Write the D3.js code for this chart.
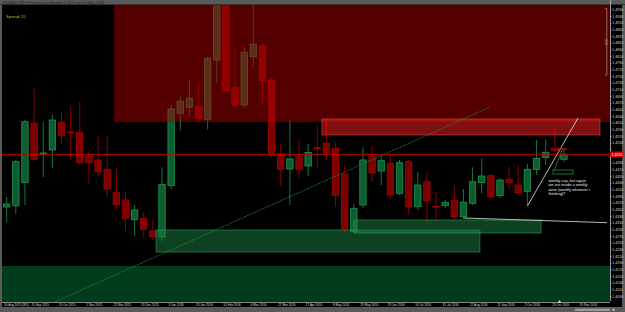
<!DOCTYPE html>
<html><head><meta charset="utf-8">
<script src="https://cdn.jsdelivr.net/npm/d3@7/dist/d3.min.js"></script>
<style>html,body{margin:0;padding:0;background:#5a5a5a;overflow:hidden}svg{display:block}</style>
</head><body>
<script>
// ---- data (weekly bars, index 0 = 30 Aug 2015) ----
const opens  = [1.4357,1.43609,1.44299,1.46081,1.45175,1.4528,1.46111,1.4582,1.45811,1.451,1.4498,1.44701,1.44011,1.4378,1.43189,1.43231,1.4285,1.4267,1.44209,1.46381,1.46561,1.466,1.46201,1.4798,1.496,1.47161,1.4663,1.48079,1.484,1.4738,1.4516,1.4471,1.45079,1.448,1.45349,1.45481,1.45331,1.4456,1.42829,1.4363,1.45079,1.4465,1.44881,1.43981,1.44929,1.43579,1.44329,1.43591,1.43609,1.43759,1.43279,1.43681,1.44299,1.44509,1.43909,1.44401,1.4423,1.44029,1.44695,1.45055,1.45331,1.45001];
const highs  = [1.4387,1.4498,1.4618,1.4714,1.4612,1.4633,1.4642,1.46579,1.46729,1.4525,1.45709,1.4573,1.44761,1.44029,1.4363,1.43411,1.43201,1.44761,1.4663,1.46915,1.47401,1.47299,1.48079,1.4966,1.4966,1.48379,1.4837,1.4966,1.48481,1.47461,1.45481,1.46159,1.45601,1.4546,1.46,1.46201,1.45529,1.448,1.4366,1.45361,1.454,1.451,1.45181,1.4498,1.4498,1.44629,1.44629,1.44029,1.4378,1.4423,1.4411,1.44761,1.45031,1.4456,1.44431,1.44779,1.4483,1.4486,1.4558,1.45601,1.45931,1.4531];
const lows   = [1.4312,1.4336,1.4363,1.4495,1.4447,1.4474,1.4549,1.4501,1.4483,1.4426,1.44509,1.43861,1.4351,1.42859,1.427,1.42631,1.4258,1.4255,1.4411,1.45865,1.46279,1.4612,1.45895,1.47299,1.4702,1.466,1.46549,1.47779,1.46681,1.4507,1.442,1.4363,1.44449,1.445,1.4471,1.4498,1.43579,1.4282,1.4279,1.43531,1.44329,1.4423,1.43801,1.4393,1.4333,1.4348,1.43081,1.43201,1.4354,1.43201,1.43231,1.4363,1.43981,1.43831,1.4384,1.4408,1.4393,1.43615,1.4453,1.4483,1.4522,1.4492];
const closes = [1.4366,1.44929,1.46129,1.45001,1.4519,1.4618,1.45709,1.45799,1.44911,1.44899,1.44629,1.4411,1.43651,1.43231,1.4348,1.42901,1.42679,1.44251,1.4651,1.4675,1.46831,1.46231,1.48031,1.496,1.47059,1.4663,1.48211,1.48451,1.47359,1.45181,1.44701,1.4501,1.44701,1.45205,1.45331,1.45199,1.43909,1.4291,1.43531,1.4498,1.44599,1.44959,1.4393,1.44899,1.43579,1.4423,1.43759,1.4357,1.43711,1.43279,1.43711,1.44329,1.445,1.43879,1.4438,1.44299,1.43999,1.44701,1.45031,1.45214,1.45265,1.45151];

const priceTicks = [1.4950,1.4930,1.4910,1.4890,1.4870,1.4850,1.4830,1.4810,1.4790,1.4770,1.4750,1.4730,1.4710,1.4690,1.4670,1.4650,1.4630,1.4610,1.4590,1.4570,1.4550,1.4530,1.4510,1.4490,1.4470,1.4450,1.4430,1.4410,1.4390,1.4370,1.4350,1.4330,1.4310,1.4290,1.4270,1.4250,1.4230,1.4210,1.4190,1.4170,1.4150,1.4130,1.4110,1.4090];
const dateTickIdx = [0,3,6,9,12,15,18,21,24,27,30,33,36,39,42,45,48,51,54,57,60,63];
const dateLabels = ["30 Aug 2015 (W1)","20 Sep 2015","11 Oct 2015","1 Nov 2015","22 Nov 2015","13 Dec 2015","3 Jan 2016","24 Jan 2016","14 Feb 2016","6 Mar 2016","27 Mar 2016","17 Apr 2016","8 May 2016","29 May 2016","19 Jun 2016","10 Jul 2016","31 Jul 2016","21 Aug 2016","11 Sep 2016","2 Oct 2016","23 Oct 2016","13 Nov 2016"];

// supply / demand zones (bar index from..to, price top..bottom)
const zoneFrom   = [11.75, 34.5, 16.35, 38.0, -2];
const zoneTo     = [70, 64.95, 51.8, 58.5, 70];
const zoneTop    = [1.51, 1.4621, 1.4288, 1.4318, 1.4180];
const zoneBottom = [1.4612, 1.4573, 1.4222, 1.4279, 1.40];
const zoneKind   = ["supplyWide","supply","demand","demand","demandWide"];

// trend lines (bar index, price)
const lineX1 = [5, 50, 57];
const lineP1 = [1.4069, 1.4324, 1.4360];
const lineX2 = [52.9, 65.7, 62.54];
const lineP2 = [1.4657, 1.4310, 1.4624];
const lineKind = ["green","white","white"];

const noteLines = ["weekly sup, but again","we are inside a weekly","zone (weekly whatever i","thinking)?"];
const title = "EURAUD,W1  FxPro-Classic (Weekly)  1.4515 on Oct 30th, 2016";
const spreadText = "Spread: 15";

// ---- layout ----
const W = 625, H = 312;
const P = {l: 2, t: 5, r: 610, b: 302};
const x = d3.scaleLinear().domain([0, 61]).range([6.7, 6.7 + 61 * 9.135]);
const y = d3.scaleLinear().domain([1.4978, 1.4078]).range([0, 300]);
const FONT = "'Liberation Sans', Arial, sans-serif";

const svg = d3.select("body").append("svg").attr("width", W).attr("height", H);
svg.append("rect").attr("width", W).attr("height", H).attr("fill", "#5a5a5a");
svg.append("rect").attr("x", P.l).attr("y", P.t).attr("width", 622 - P.l).attr("height", 307 - P.t).attr("fill", "#000");
svg.append("line").attr("x1", 0).attr("x2", W).attr("y1", 4.5).attr("y2", 4.5).attr("stroke", "#333");

svg.append("text").attr("x", 3).attr("y", 3.6).attr("fill", "#1e1e1e")
  .style("font-family", FONT).style("font-size", "3.6px").text(title);

svg.append("defs").append("clipPath").attr("id", "plot")
  .append("rect").attr("x", P.l).attr("y", P.t).attr("width", P.r - P.l).attr("height", P.b - P.t);

const plot = svg.append("g").attr("clip-path", "url(#plot)");

// candles
const n = opens.length;
const idx = d3.range(n);
const bw = 6.4;
const cg = plot.append("g");
idx.forEach(i => {
  const up = closes[i] >= opens[i];
  const cx = x(i);
  cg.append("line").attr("x1", cx).attr("x2", cx).attr("y1", y(highs[i])).attr("y2", y(lows[i]))
    .attr("stroke", up ? "#14773a" : "#8a0000").attr("stroke-width", 1);
  const top = y(Math.max(opens[i], closes[i])), bot = y(Math.min(opens[i], closes[i]));
  cg.append("rect").attr("x", cx - bw / 2).attr("y", top).attr("width", bw).attr("height", Math.max(bot - top, 0.8))
    .attr("fill", up ? "#0c5e2f" : "#7c0000").attr("stroke", up ? "#1f9450" : "#a80000").attr("stroke-width", 0.8);
});

// zones
const zoneFill = {supplyWide: "rgba(170,0,0,0.5)", supply: "rgba(255,30,30,0.5)", demand: "rgba(25,130,65,0.5)", demandWide: "rgba(0,120,56,0.5)"};
const zoneStroke = {supplyWide: "none", supply: "rgba(255,80,80,0.45)", demand: "rgba(50,170,95,0.55)", demandWide: "none"};
zoneFrom.forEach((f, k) => {
  plot.append("rect").attr("x", x(f)).attr("y", y(zoneTop[k]))
    .attr("width", x(zoneTo[k]) - x(f)).attr("height", y(zoneBottom[k]) - y(zoneTop[k]))
    .attr("fill", zoneFill[zoneKind[k]]).attr("stroke", zoneStroke[zoneKind[k]]).attr("stroke-width", 1);
});

// trend lines
lineX1.forEach((a, k) => {
  const l = plot.append("line").attr("x1", x(a)).attr("y1", y(lineP1[k])).attr("x2", x(lineX2[k])).attr("y2", y(lineP2[k]))
    .attr("stroke", lineKind[k] === "green" ? "#1e8a40" : "#d0d0d0").attr("stroke-width", lineKind[k] === "green" ? 0.8 : 0.9);
  if (lineKind[k] === "green") l.attr("stroke-dasharray", "2,1");
});

// small drawn objects near last bars
plot.append("rect").attr("x", x(59.8)).attr("y", y(1.4468)).attr("width", x(62.0) - x(59.8)).attr("height", y(1.4456) - y(1.4468))
  .attr("fill", "none").attr("stroke", "#1e8a48").attr("stroke-width", 0.8);
plot.append("line").attr("x1", x(59.9)).attr("y1", y(1.4465)).attr("x2", x(60.8)).attr("y2", y(1.4528))
  .attr("stroke", "#1e8a48").attr("stroke-width", 0.8);
plot.append("line").attr("x1", x(60.35)).attr("y1", y(1.4531)).attr("x2", x(61.35)).attr("y2", y(1.4531))
  .attr("stroke", "#e01010").attr("stroke-width", 1.2);

// current price line
const last = closes[n - 1];
plot.append("line").attr("x1", P.l).attr("x2", P.r).attr("y1", y(last)).attr("y2", y(last))
  .attr("stroke", "#c00000").attr("stroke-width", 1);

// note text
const note = plot.append("text").attr("x", x(59.3)).attr("y", y(1.4432)).attr("fill", "#e8e8e8")
  .style("font-family", FONT).style("font-size", "3.9px");
noteLines.forEach((t, k) => note.append("tspan").attr("x", x(59.3)).attr("dy", k ? 4.3 : 0).text(t));

// spread
svg.append("text").attr("x", 6).attr("y", 18.3).attr("fill", "#c8c000")
  .style("font-family", FONT).style("font-size", "4px").text(spreadText);

// pip bracket at right edge
const br = svg.append("g").attr("stroke", "#b89090").attr("stroke-width", 0.7).attr("fill", "none");
br.append("line").attr("x1", 606.8).attr("x2", 606.8).attr("y1", 8.3).attr("y2", 75);
br.append("line").attr("x1", 604.8).attr("x2", 606.8).attr("y1", 8.3).attr("y2", 8.3);
br.append("line").attr("x1", 604.8).attr("x2", 606.8).attr("y1", 75).attr("y2", 75);
svg.append("text").attr("transform", "translate(605.2,42) rotate(90)").attr("text-anchor", "middle")
  .attr("fill", "#c8a0a0").style("font-family", FONT).style("font-size", "3.2px").text("223");

// price axis (tick label under the current-price marker is hidden, as in the terminal)
const ga = svg.append("g").attr("transform", `translate(${P.r},0)`)
  .call(d3.axisRight(y).tickValues(priceTicks).tickFormat(d => d.toFixed(4)).tickSize(1.4).tickPadding(0.8));
ga.select(".domain").attr("stroke", "#bdbdbd").attr("stroke-width", 0.8);
ga.selectAll(".tick line").attr("stroke", "#cfcfcf").attr("stroke-width", 0.6);
ga.selectAll(".tick text").attr("fill", "#dcdcdc").style("font-family", FONT).style("font-size", "3.6px");
ga.selectAll(".tick").filter(d => Math.abs(y(d) - y(last)) < 5).select("text").remove();

// current price label
svg.append("rect").attr("x", P.r).attr("y", y(last) - 2.8).attr("width", 13).attr("height", 5.6).attr("fill", "#d00000");
svg.append("text").attr("x", P.r + 1.5).attr("y", y(last) + 1.3).attr("fill", "#fff")
  .style("font-family", FONT).style("font-size", "3.6px").text(last.toFixed(4));

// time axis
svg.append("line").attr("x1", P.l).attr("x2", P.r).attr("y1", P.b + 0.5).attr("y2", P.b + 0.5).attr("stroke", "#bdbdbd").attr("stroke-width", 0.7);
svg.append("g").selectAll("text").data(dateTickIdx).join("text")
  .attr("x", d => x(d) - 2.6).attr("y", 306)
  .attr("fill", "#d8d8d8").style("font-family", FONT).style("font-size", "3.1px")
  .text((d, i) => dateLabels[i]);

// shift marker
svg.append("path").attr("d", `M${x(60.3)},303 l2,-3 l2,3 z`).attr("fill", "#cfcfcf");

// bottom bar / scrollbar
svg.append("rect").attr("x", 0).attr("y", 307).attr("width", W).attr("height", 5).attr("fill", "#5a5a5a");
svg.append("rect").attr("x", 575).attr("y", 308.6).attr("width", 35).attr("height", 2.4).attr("fill", "#9a9a9a");
svg.append("rect").attr("x", 612).attr("y", 308.6).attr("width", 3).attr("height", 2.4).attr("fill", "#9a9a9a");
</script>
</body></html>
